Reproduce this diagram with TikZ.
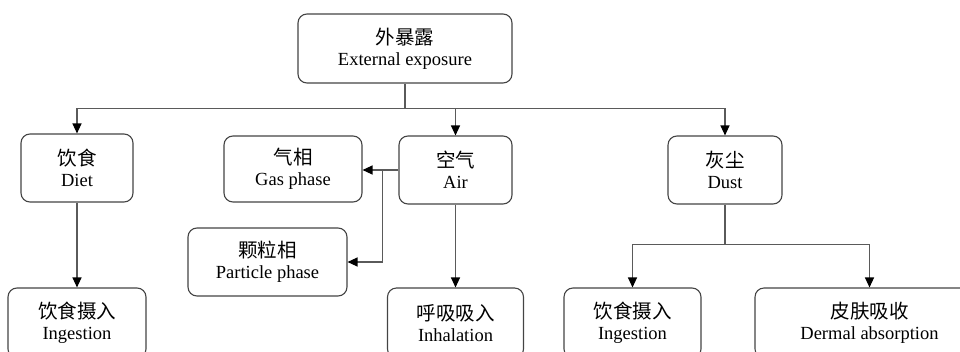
\documentclass[tikz,border=0pt]{standalone}
\usepackage{fontspec}
\setmainfont{Liberation Serif}
\newfontfamily\cjk{Noto Sans CJK SC}
\usetikzlibrary{arrows.meta}
\definecolor{linec}{HTML}{5A5A5A}
\definecolor{boxc}{HTML}{444444}
\newcommand{\zh}[1]{{\cjk\fontsize{19.5}{22}\selectfont #1}}
\tikzset{
  boxnode/.style={draw=boxc, line width=1.1pt, rounded corners=9pt, inner sep=0pt,
    align=center, font=\fontsize{18.5}{21}\selectfont, text=black},
  conn/.style={draw=linec, line width=1.2pt},
  arr/.style={conn, arrows={-{Triangle[length=10pt,width=9pt,color=black]}}}
}
\begin{document}
\begin{tikzpicture}[x=1pt,y=-1pt]
\useasboundingbox (0,0) rectangle (960,351);
\clip (0,0) rectangle (960,351);
\node[boxnode, minimum width=214pt, minimum height=69pt] (top) at (405,48.5) {\zh{外暴露}\\External exposure};
\node[boxnode, minimum width=112pt, minimum height=68pt] (diet) at (77,168) {\zh{饮食}\\Diet};
\node[boxnode, minimum width=138pt, minimum height=66pt] (gas) at (293,169) {\zh{气相}\\Gas phase};
\node[boxnode, minimum width=113pt, minimum height=68pt] (air) at (455.5,170) {\zh{空气}\\Air};
\node[boxnode, minimum width=114pt, minimum height=68pt] (dust) at (725,170) {\zh{灰尘}\\Dust};
\node[boxnode, minimum width=159pt, minimum height=68pt] (part) at (267.5,262) {\zh{颗粒相}\\Particle phase};
\node[boxnode, minimum width=138pt, minimum height=70pt] (ing1) at (77,323) {\zh{饮食摄入}\\Ingestion};
\node[boxnode, minimum width=136pt, minimum height=70pt] (inh) at (455.5,323) {\zh{呼吸吸入}\\Inhalation};
\node[boxnode, minimum width=137pt, minimum height=70pt] (ing2) at (632.5,323) {\zh{饮食摄入}\\Ingestion};
\node[boxnode, minimum width=229pt, minimum height=70pt] (derm) at (869.5,323) {\zh{皮肤吸收}\\Dermal absorption};
% top branch
\draw[conn] (top.south) -- ++(0,25) coordinate (j);
\draw[arr] (j) -| (diet.north);
\draw[arr] (j) -| (dust.north);
\draw[arr] (j -| air.north) -- (air.north);
% diet
\draw[arr] (diet.south) -- (ing1.north);
% air
\draw[arr] (air.south) -- (air.south |- inh.north);
\draw[conn] (air.west |- 0,170) -- ++(-16,0) coordinate (b);
\draw[arr] (b) -- (b -| gas.east);
\draw[arr] (b) |- (part.east);
% dust
\draw[conn] (dust.south) -- ++(0,40) coordinate (d);
\draw[arr] (d) -| (ing2.north);
\draw[arr] (d) -| (derm.north);
\end{tikzpicture}
\end{document}
